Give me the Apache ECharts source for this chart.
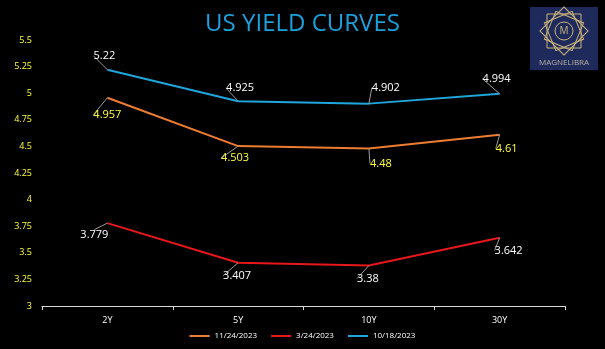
<!DOCTYPE html>
<html><head><meta charset="utf-8">
<script src="https://cdn.jsdelivr.net/npm/echarts@6/dist/echarts.min.js"></script>
<style>html,body{margin:0;padding:0;background:#000;}#c{width:605px;height:349px;}</style>
</head><body><div id="c"></div>
<script>
var categories = ['2Y', '5Y', '10Y', '30Y'];
var seriesNames = ['11/24/2023', '3/24/2023', '10/18/2023'];
var nov24 = [4.957, 4.503, 4.48, 4.61];
var mar24 = [3.779, 3.407, 3.38, 3.642];
var oct18 = [5.22, 4.925, 4.902, 4.994];
var yTicks = [3, 3.25, 3.5, 3.75, 4, 4.25, 4.5, 4.75, 5, 5.25, 5.5];

var colors = ['#ed7d31', '#e8171b', '#1fa6dc'];
var labelColors = ['#ffff33', '#ffffff', '#ffffff'];
// label displacement (style only)
var offs = [
  [[0, 17], [-3, 12], [12, 15], [7, 14]],
  [[-13, 12], [-1, 13], [-1, 13], [9, 13]],
  [[-3, -14], [2, -13], [17, -16], [-3, -15]]
];
var fam = 'Open Sans, DejaVu Sans Condensed, sans-serif';
var chart = echarts.init(document.getElementById('c'));
var datasets = [nov24, mar24, oct18];
var series = datasets.map(function (d, si) {
  return {
    name: seriesNames[si], type: 'line', data: d, showSymbol: true, symbol: 'circle', symbolSize: 0,
    lineStyle: { color: colors[si], width: 2 }, itemStyle: { color: colors[si] },
    label: { show: true, position: 'inside', color: labelColors[si], fontSize: 11, fontFamily: fam },
    labelLine: { show: true, lineStyle: { color: '#9a9a9a', width: 1 } },
    labelLayout: function (p) { var o = offs[si][p.dataIndex]; return { dx: o[0], dy: o[1], hideOverlap: false }; },
    emphasis: { disabled: true }
  };
});
chart.setOption({
  backgroundColor: '#000',
  animation: false,
  title: { text: 'US YIELD CURVES', left: 'center', top: 7,
    textStyle: { color: '#1ba1de', fontSize: 24, fontWeight: 'normal', fontFamily: fam } },
  legend: { bottom: 4, left: 'center', itemWidth: 20, itemHeight: 2, itemGap: 14,
    icon: 'rect', textStyle: { color: '#ffffff', fontSize: 8, fontFamily: fam },
    data: seriesNames },
  grid: { left: 42, right: 40, top: 40, bottom: 43 },
  xAxis: { type: 'category', data: categories, boundaryGap: true,
    axisLine: { lineStyle: { color: '#d9d9d9', width: 1 } },
    axisTick: { show: true, length: 4, lineStyle: { color: '#d9d9d9' } },
    axisLabel: { color: '#ffffff', fontSize: 9, margin: 10, fontFamily: fam } },
  yAxis: { type: 'value', min: 3, max: 5.5, interval: 0.25,
    axisLine: { show: false }, axisTick: { show: false }, splitLine: { show: false },
    axisLabel: { color: '#ffff33', fontSize: 9, margin: 10, fontFamily: fam,
      formatter: function (v) { return String(parseFloat(v.toFixed(2))); } } },
  color: colors,
  tooltip: { show: false },
  series: series,
  graphic: [
    { type: 'rect', shape: { x: 530, y: 7, width: 68, height: 63 }, style: { fill: '#1e2a5c' } },
    { type: 'rect', shape: { x: 547, y: 14, width: 34, height: 34 }, style: { fill: 'none', stroke: '#c9b27a', lineWidth: 1 } },
    { type: 'rect', shape: { x: -17, y: -17, width: 34, height: 34 }, x: 564, y: 31, rotation: Math.PI / 4, style: { fill: 'none', stroke: '#c9b27a', lineWidth: 1 } },
    { type: 'rect', shape: { x: -15, y: -15, width: 30, height: 30 }, x: 564, y: 31, rotation: Math.PI / 8, style: { fill: 'none', stroke: '#c9b27a', lineWidth: 1 } },
    { type: 'rect', shape: { x: -15, y: -15, width: 30, height: 30 }, x: 564, y: 31, rotation: 3 * Math.PI / 8, style: { fill: 'none', stroke: '#c9b27a', lineWidth: 1 } },
    { type: 'circle', shape: { cx: 564, cy: 31, r: 9 }, style: { fill: '#1e2a5c', stroke: '#c9b27a', lineWidth: 1 } },
    { type: 'text', x: 564, y: 31, style: { text: 'M', fill: '#c9b27a', fontSize: 10, align: 'center', verticalAlign: 'middle', fontFamily: fam } },
    { type: 'text', x: 564, y: 63, style: { text: 'MAGNELIBRA', fill: '#b8b0a0', fontSize: 8, align: 'center', verticalAlign: 'middle', fontFamily: fam } }
  ]
});
</script></body></html>
